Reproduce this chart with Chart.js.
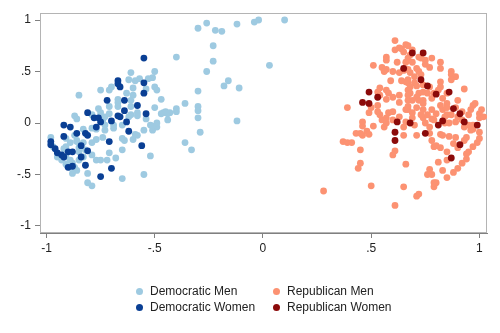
<!DOCTYPE html>
<html>
<head>
<meta charset="utf-8">
<script src="https://cdn.jsdelivr.net/npm/chart.js@4/dist/chart.umd.min.js"></script>
<style>
  html, body { margin: 0; padding: 0; background: #fff; }
  #wrap { position: relative; width: 500px; height: 333px; }
  #legend { position: absolute; left: 0; top: 0; width: 500px; height: 333px; pointer-events: none;
            font-family: "Liberation Sans", Arial, sans-serif; font-size: 12px; color: #222; }
  .item { position: absolute; white-space: nowrap; line-height: 14px; }
  .dot { position: absolute; width: 7px; height: 7px; border-radius: 50%; }
</style>
</head>
<body>
<div id="wrap">
  <canvas id="c" width="500" height="333"></canvas>
  <div id="legend"></div>
</div>
<script>
const seriesNames = ['Democratic Men', 'Democratic Women', 'Republican Men', 'Republican Women'];
const seriesColors = ['#9ecae1', '#0a3f94', '#fc9272', '#8b0a0a'];

const xTickValues = [-1, -0.5, 0, 0.5, 1];
const xTickLabels = ['-1', '-.5', '0', '.5', '1'];
const yTickValues = [-1, -0.5, 0, 0.5, 1];
const yTickLabels = ['-1', '-.5', '0', '.5', '1'];

const demMen = [
  [-0.30,0.92],[-0.26,0.97],[-0.22,0.90],[-0.19,0.89],[-0.12,0.96],[-0.04,0.98],[-0.02,1.00],[0.10,1.00],
  [-0.23,0.75],[-0.23,0.60],[-0.40,0.64],[-0.26,0.50],[0.03,0.56],[-0.16,0.41],[-0.18,0.36],[-0.11,0.34],[-0.30,0.31],
  [-0.50,0.50],[-0.51,0.44],[-0.53,0.43],[-0.50,0.35],[-0.49,0.32],[-0.54,0.33],[-0.47,0.23],[-0.36,0.19],
  [-0.30,0.16],[-0.30,0.12],[-0.40,0.14],[-0.50,0.15],[-0.47,0.09],[-0.44,0.09],[-0.54,0.04],[-0.44,0.03],
  [-0.30,0.05],[-0.12,0.02],[-0.29,-0.09],[-0.49,-0.04],[-0.51,-0.07],[-0.55,-0.07],[-0.36,-0.19],[-0.33,-0.26],[-0.52,-0.32],
  [-0.85,0.27],[-0.75,0.32],[-0.61,0.49],[-0.62,0.42],[-0.59,0.41],[-0.57,0.43],[-0.60,0.34],[-0.60,0.27],
  [-0.63,0.29],[-0.70,0.35],[-0.71,0.32],[-0.67,0.23],[-0.67,0.20],[-0.61,0.22],[-0.71,0.16],[-0.76,0.14],
  [-0.61,0.16],[-0.46,0.10],[-0.67,0.16],[-0.61,0.08],[-0.58,0.07],[-0.87,0.07],[-0.86,0.04],[-0.79,0.08],
  [-0.74,0.03],[-0.73,-0.02],[-0.69,-0.02],[-0.65,-0.02],[-0.79,-0.05],[-0.83,-0.06],[-0.51,-0.03],[-0.45,0.11],
  [-0.75,0.10],[-0.73,0.06],[-0.58,0.10],[-0.71,0.09],[-0.62,0.06],[-0.77,-0.06],[-0.73,-0.07],[-0.69,-0.05],
  [-0.74,-0.14],[-0.77,-0.16],[-0.79,-0.19],[-0.83,-0.19],[-0.86,-0.18],[-0.87,-0.12],[-0.89,-0.19],[-0.91,-0.23],
  [-0.92,-0.25],[-0.91,-0.33],[-0.89,-0.36],[-0.88,-0.39],[-0.87,-0.43],[-0.86,-0.46],[-0.88,-0.49],[-0.85,-0.36],
  [-0.83,-0.33],[-0.82,-0.26],[-0.79,-0.31],[-0.77,-0.36],[-0.81,-0.49],[-0.81,-0.58],[-0.79,-0.61],[-0.75,-0.36],
  [-0.71,-0.29],[-0.72,-0.36],[-0.68,-0.34],[-0.65,-0.26],[-0.65,-0.54],[-0.64,-0.17],[-0.60,-0.16],[-0.58,-0.12],
  [-0.52,-0.02],[-0.49,0.00],[-0.43,0.10],[-0.40,0.11],[-0.55,-0.50],[-0.98,-0.14],[-0.97,-0.23],[-0.95,-0.33],
  [-0.93,-0.36],[-0.91,-0.40],[-0.89,-0.43],[-0.91,-0.15],[-0.86,-0.17],[-0.85,-0.24],[-0.85,-0.28],[-0.65,-0.15],
  [-0.59,-0.11]
];

const demWomen = [
  [-0.55,0.63],[-0.67,0.41],[-0.67,0.38],[-0.66,0.35],[-0.55,0.39],[-0.55,0.29],[-0.72,0.22],[-0.64,0.22],
  [-0.58,0.17],[-0.64,0.12],[-0.81,0.10],[-0.54,0.09],[-0.67,0.07],[-0.66,0.06],[-0.78,0.05],[-0.76,0.05],
  [-0.70,0.02],[-0.75,0.01],[-0.63,0.01],[-0.92,-0.02],[-0.89,-0.04],[-0.77,-0.04],[-0.86,-0.10],[-0.82,-0.10],
  [-0.81,-0.12],[-0.62,-0.08],[-0.92,-0.13],[-0.98,-0.18],[-0.98,-0.21],[-0.96,-0.25],[-0.95,-0.29],[-0.93,-0.31],
  [-0.92,-0.33],[-0.90,-0.28],[-0.88,-0.28],[-0.84,-0.22],[-0.81,-0.27],[-0.84,-0.33],[-0.71,-0.18],[-0.56,-0.22],
  [-0.88,-0.42],[-0.90,-0.43],[-0.82,-0.41],[-0.70,-0.44],[-0.75,-0.52]
];

const repMen = [
  [0.61,0.80],[0.66,0.76],[0.67,0.75],[0.64,0.72],[0.65,0.69],[0.69,0.71],[0.68,0.66],[0.57,0.64],
  [0.57,0.61],[0.62,0.59],[0.66,0.59],[0.69,0.59],[0.75,0.61],[0.78,0.63],[0.75,0.57],[0.82,0.59],
  [0.51,0.56],[0.55,0.54],[0.57,0.52],[0.56,0.50],[0.60,0.50],[0.67,0.52],[0.71,0.53],[0.72,0.50],
  [0.73,0.47],[0.87,0.50],[0.87,0.47],[0.89,0.45],[0.59,0.41],[0.64,0.41],[0.67,0.42],[0.70,0.39],
  [0.71,0.36],[0.74,0.37],[0.77,0.35],[0.82,0.40],[0.82,0.35],[0.81,0.32],[0.79,0.29],[0.93,0.33],
  [0.54,0.34],[0.57,0.32],[0.67,0.32],[0.68,0.29],[0.72,0.29],[0.71,0.25],[0.74,0.22],[0.57,0.23],
  [0.60,0.25],[0.78,0.24],[0.90,0.22],[0.97,0.17],[0.96,0.13],[1.00,0.09],[1.00,0.05],[0.39,0.15],
  [0.50,0.15],[0.53,0.17],[0.58,0.10],[0.54,0.08],[0.49,0.10],[0.66,0.13],[0.67,0.13],[0.71,0.15],
  [0.74,0.13],[0.78,0.13],[0.80,0.09],[0.83,0.13],[0.85,0.08],[0.87,0.08],[0.90,0.06],[0.51,-0.03],
  [0.56,-0.04],[0.46,-0.03],[0.65,-0.04],[0.69,0.05],[0.74,0.05],[0.78,0.04],[0.86,0.00],[0.95,-0.02],
  [0.63,0.49],[0.66,0.40],[0.61,0.71],[0.63,0.73],[0.67,0.63],[0.65,0.51],[0.68,0.49],[0.53,0.30],
  [0.54,0.27],[0.58,0.29],[0.63,0.27],[0.63,0.20],[0.67,0.16],[0.60,0.11],[0.46,0.01],[0.55,0.03],
  [0.57,0.05],[0.60,0.03],[0.63,0.06],[0.66,0.01],[0.67,0.22],[0.67,0.39],
  [0.72,0.64],[0.73,0.63],[0.77,0.54],[0.82,0.53],[0.87,0.42],[0.70,0.45],[0.68,0.35],[0.74,0.30],
  [0.76,0.29],[0.85,0.29],[0.67,0.27],[0.69,0.22],[0.72,0.22],[0.74,0.19],[0.83,0.24],[0.85,0.19],
  [0.82,0.17],[0.85,0.15],[0.89,0.15],[0.92,0.11],[0.95,0.08],[0.98,0.19],[1.01,0.13],[1.02,0.06],
  [0.69,0.10],[0.73,0.08],[0.76,0.08],[0.79,0.03],[0.84,0.06],[0.89,0.01],[0.92,0.03],[0.97,-0.02],
  [0.70,-0.02],[0.75,0.00],[0.77,-0.04],[0.93,-0.04],
  [0.37,-0.18],[0.39,-0.19],[0.41,-0.19],[0.46,-0.12],[0.45,-0.10],[0.48,-0.08],[0.45,-0.26],[0.45,-0.39],
  [0.44,-0.44],[0.28,-0.66],[0.50,-0.61],[0.61,-0.80],[0.65,-0.62],[0.71,-0.71],[0.72,-0.69],[0.61,-0.27],
  [0.60,-0.31],[0.65,-0.12],[0.66,-0.40],[0.71,-0.12],[0.78,-0.17],[0.77,-0.45],[0.76,-0.50],[0.79,-0.62],
  [0.80,-0.58],[0.81,-0.38],[0.83,-0.46],[0.85,-0.53],[0.88,-0.48],[0.90,-0.44],[0.92,-0.39],[0.94,-0.35],
  [0.95,-0.28],[0.97,-0.23],[0.99,-0.19],[1.00,-0.15],[1.00,-0.09],[0.89,-0.14],[0.86,-0.13],[0.82,-0.11],
  [0.79,-0.23],[0.82,-0.24],[0.94,-0.14],[0.96,-0.07],[0.57,0.00],[0.53,0.11],[0.43,-0.10],[0.49,-0.11],
  [0.80,-0.22],[0.85,-0.28],[0.85,-0.36],[0.78,-0.50],[0.94,-0.30],[0.93,-0.17],[0.97,-0.06],[0.77,-0.10],
  [0.83,-0.12],[0.84,0.00],[0.79,-0.58],[0.88,-0.20],[0.90,-0.24]
];

const repWomen = [
  [0.69,0.68],[0.74,0.68],[0.65,0.53],[0.73,0.42],[0.76,0.36],[0.80,0.28],[0.86,0.30],[0.49,0.30],
  [0.53,0.25],[0.46,0.20],[0.49,0.19],[0.88,0.14],[0.91,0.09],[0.62,0.01],[0.68,0.00],[0.81,-0.02],
  [0.83,0.02],[0.93,0.01],[0.99,-0.02],[0.61,-0.09],[0.61,-0.17],[0.75,-0.10],[0.91,-0.21],[0.87,-0.34]
];

const toPts = arr => arr.map(p => ({ x: p[0], y: p[1] }));
const allSeries = [demMen, demWomen, repMen, repWomen];
const drawOrder = [1, 0, 1, 0];

const datasets = allSeries.map((s, i) => ({
  label: seriesNames[i],
  data: toPts(s),
  backgroundColor: seriesColors[i],
  borderWidth: 0,
  pointRadius: 3.4,
  pointHoverRadius: 3.4,
  order: drawOrder[i]
}));

const tickFont = { family: '"Liberation Sans", Arial, sans-serif', size: 12 };

const framePlugin = {
  id: 'frame',
  beforeDatasetsDraw(chart) {
    const { ctx, chartArea: a } = chart;
    ctx.save();
    ctx.strokeStyle = '#b4b4b4';
    ctx.lineWidth = 1;
    ctx.strokeRect(Math.round(a.left) + 0.5, Math.round(a.top) + 0.5,
                   Math.round(a.right - a.left) - 1, Math.round(a.bottom - a.top) - 1);
    ctx.restore();
  }
};

new Chart(document.getElementById('c'), {
  type: 'scatter',
  data: { datasets },
  options: {
    responsive: false,
    animation: false,
    devicePixelRatio: 1,
    layout: { padding: { left: 0, right: 13, top: 13, bottom: 0 } },
    plugins: { legend: { display: false }, tooltip: { enabled: false } },
    scales: {
      x: {
        type: 'linear',
        min: -1.03, max: 1.035,
        afterBuildTicks: sc => { sc.ticks = xTickValues.map(v => ({ value: v })); },
        afterFit: sc => { sc.height = 100; },
        ticks: {
          font: tickFont, color: '#222', padding: 3, maxRotation: 0,
          callback: (v, i) => xTickLabels[i]
        },
        grid: { display: true, drawOnChartArea: false, drawTicks: true, tickLength: 5, color: '#808080' },
        border: { display: true, color: '#808080' }
      },
      y: {
        type: 'linear',
        min: -1.068, max: 1.068,
        afterBuildTicks: sc => { sc.ticks = yTickValues.map(v => ({ value: v })); },
        afterFit: sc => { sc.width = 40; },
        ticks: {
          font: tickFont, color: '#222', padding: 4,
          callback: (v, i) => yTickLabels[i]
        },
        grid: { display: true, drawOnChartArea: false, drawTicks: true, tickLength: 5, color: '#808080' },
        border: { display: true, color: '#808080' }
      }
    }
  },
  plugins: [framePlugin]
});

// Legend (two columns, two rows) as real text
const legendPos = [
  { dx: 139, ty: 291 }, { dx: 139, ty: 307 }, { dx: 276, ty: 291 }, { dx: 276, ty: 307 }
];
const lg = document.getElementById('legend');
seriesNames.forEach((name, i) => {
  const p = legendPos[i];
  const dot = document.createElement('div');
  dot.className = 'dot';
  dot.style.background = seriesColors[i];
  dot.style.left = (p.dx - 3.5) + 'px';
  dot.style.top = (p.ty - 3.5) + 'px';
  lg.appendChild(dot);
  const t = document.createElement('div');
  t.className = 'item';
  t.textContent = name;
  t.style.left = (p.dx + 11) + 'px';
  t.style.top = (p.ty - 7) + 'px';
  lg.appendChild(t);
});
</script>
</body>
</html>
